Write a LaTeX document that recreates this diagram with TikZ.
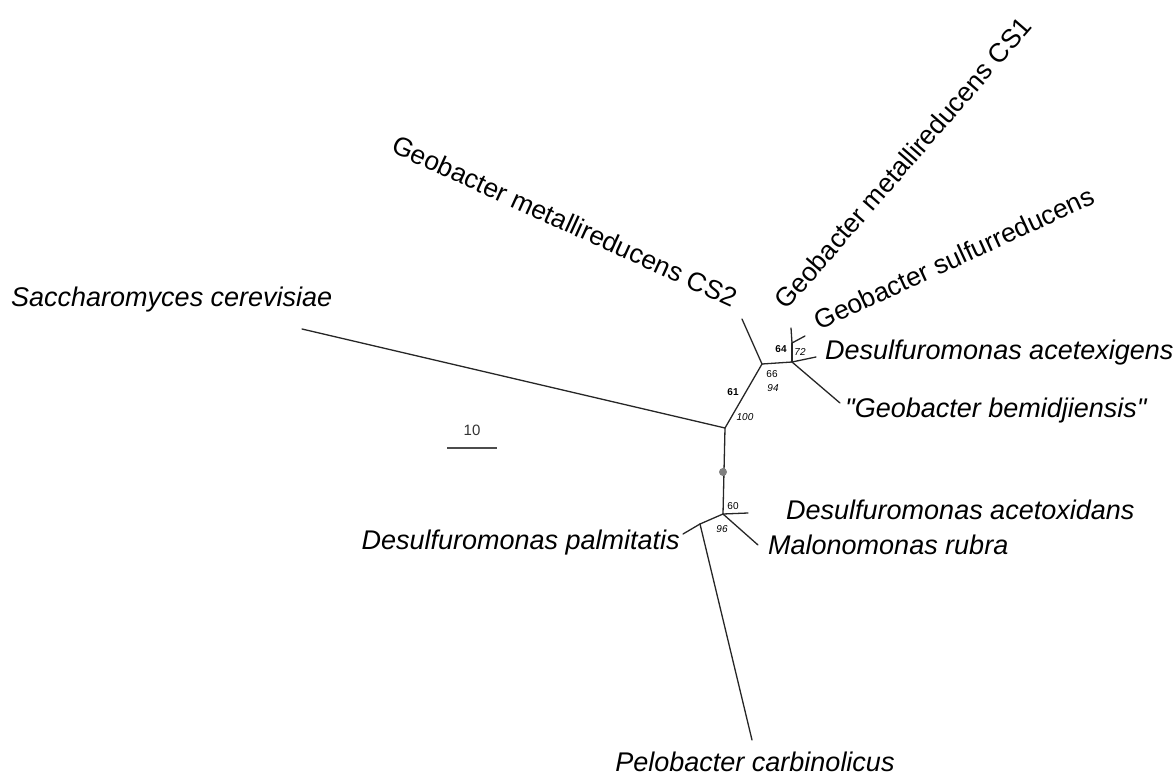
\documentclass[tikz,border=0pt]{standalone}
\usepackage{fontspec}
\setmainfont[Ligatures=TeXOff]{Liberation Sans}
\usetikzlibrary{positioning}

\tikzset{
  taxon/.style={font=\fontsize{27}{30}\selectfont\itshape, inner sep=0pt},
  taxonup/.style={font=\fontsize{26.5}{30}\selectfont, inner sep=0pt},
  boot/.style={font=\fontsize{10}{12}\selectfont, inner sep=0pt},
  branch/.style={line width=1.3pt, black!85, line cap=round},
}

\begin{document}
\begin{tikzpicture}[x=1pt,y=-1pt]
  \useasboundingbox (0,0) rectangle (1176,776);
  % internal nodes of the tree
  \coordinate (root) at (725,428);
  \coordinate (geoA) at (762,364);
  \coordinate (geoB) at (792,362);
  \coordinate (geoC) at (792,343);
  \coordinate (desA) at (723,514);
  \coordinate (desB) at (700,524);
  % tips
  \coordinate (sacc) at (302,329);
  \coordinate (cstwo) at (742,319);
  \coordinate (csone) at (791,328);
  \coordinate (sulf) at (805,336);
  \coordinate (acex) at (816,357);
  \coordinate (bemi) at (840,403);
  \coordinate (acox) at (748,513);
  \coordinate (malo) at (758,545);
  \coordinate (palm) at (683,534);
  \coordinate (pelo) at (752,740);

  % branches
  \draw[branch] (root) -- (sacc);
  \draw[branch] (root) -- (geoA);
  \draw[branch] (geoA) -- (cstwo);
  \draw[branch] (geoA) -- (geoB);
  \draw[branch] (geoB) -- (geoC);
  \draw[branch] (geoC) -- (csone);
  \draw[branch] (geoC) -- (sulf);
  \draw[branch] (geoB) -- (acex);
  \draw[branch] (geoB) -- (bemi);
  \draw[branch] (root) -- (desA);
  \draw[branch] (desA) -- (acox);
  \draw[branch] (desA) -- (malo);
  \draw[branch] (desA) -- (desB);
  \draw[branch] (desB) -- (palm);
  \draw[branch] (desB) -- (pelo);
  \node[circle, fill=black!50, inner sep=0pt, minimum size=8pt] (rootmark) at (723,472) {};

  % taxa
  \node[taxon, anchor=west] (lsacc) at (11,300) {Saccharomyces cerevisiae};
  \node[taxonup, rotate=-24.5] (lcstwo) at (565,221) {Geobacter metallireducens CS2};
  \node[taxonup, rotate=49] (lcsone) at (903,163) {Geobacter metallireducens CS1};
  \node[taxonup, rotate=24.7] (lsulf) at (954,258) {Geobacter sulfurreducens};
  \node[taxon, anchor=west] (lacex) at (825,353) {Desulfuromonas acetexigens};
  \node[taxon, anchor=west] (lbemi) at (845,411) {"Geobacter bemidjiensis"};
  \node[taxon, anchor=west] (lacox) at (786,510) {Desulfuromonas acetoxidans};
  \node[taxon, anchor=west] (lmalo) at (768,545) {Malonomonas rubra};
  \node[taxon, anchor=east] (lpalm) at (680,543) {Desulfuromonas palmitatis};
  \node[taxon] (lpelo) at (755,762) {Pelobacter carbinolicus};

  % bootstrap values
  \node[boot, font=\fontsize{10}{12}\selectfont\bfseries] at (733,392) {61};
  \node[boot, font=\fontsize{10}{12}\selectfont\itshape] at (745,417) {100};
  \node[boot] at (772,374) {66};
  \node[boot, font=\fontsize{10}{12}\selectfont\itshape] at (773,388) {94};
  \node[boot, font=\fontsize{10}{12}\selectfont\bfseries] at (781,349) {64};
  \node[boot, font=\fontsize{10}{12}\selectfont\itshape] at (800,352) {72};
  \node[boot] at (733,506) {60};
  \node[boot, font=\fontsize{10}{12}\selectfont\itshape] at (722,529) {96};

  % scale bar
  \coordinate (barL) at (447,448);
  \coordinate (barR) at (497,448);
  \draw[line width=1.6pt, black!70] (barL) -- (barR);
  \node[font=\fontsize{15}{18}\selectfont, text=black!80] (barlab) at (472,430) {10};
\end{tikzpicture}
\end{document}
